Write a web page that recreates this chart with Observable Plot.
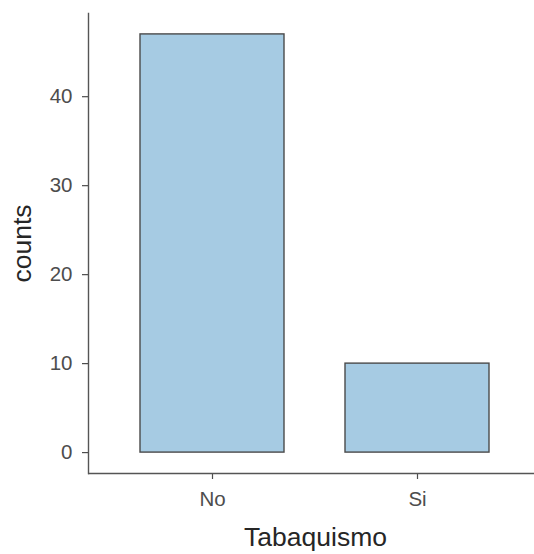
<!DOCTYPE html>
<html>
<head>
<meta charset="utf-8">
<script src="https://cdn.jsdelivr.net/npm/d3@7"></script>
<script src="https://cdn.jsdelivr.net/npm/@observablehq/plot@0.6"></script>
<style>
  html, body { margin: 0; padding: 0; background: #fff; }
</style>
</head>
<body>
<div id="chart"></div>
<script>
const categories = ["No", "Si"];
const counts = [47, 10];
const yTicks = [0, 10, 20, 30, 40];
const xTitle = "Tabaquismo";
const yTitle = "counts";

const data = categories.map((c, i) => ({Tabaquismo: c, counts: counts[i]}));
const yMax = d3.max(counts);
const pad = yMax * 0.05;

const plot = Plot.plot({
  width: 534,
  height: 554,
  marginLeft: 88,
  marginRight: 0,
  marginTop: 13,
  marginBottom: 81,
  style: {fontFamily: "Liberation Sans, Arial, Helvetica, sans-serif", fontSize: "21px", color: "#4d4d4d", background: "#fff"},
  x: {domain: categories, range: [88, 541], paddingInner: 0.3, paddingOuter: 0.25, label: null},
  y: {domain: [-pad, yMax + pad], label: null},
  marks: [
    Plot.barY(data, {x: "Tabaquismo", y1: 0, y2: "counts", fill: "#a6cbe3", stroke: "#4a4a4a", strokeWidth: 1.4}),
    Plot.axisY(yTicks, {tickSize: 6, tickPadding: 10, stroke: "#4d4d4d", strokeWidth: 1.2, fill: "#4d4d4d", fontSize: 20.5, label: null}),
    Plot.axisX({tickSize: 6, tickPadding: 12, stroke: "#4d4d4d", strokeWidth: 1.2, fill: "#4d4d4d", fontSize: 20.5, label: null}),
    Plot.ruleY([-pad], {stroke: "#555", strokeWidth: 1.4}),
    Plot.frame({anchor: "left", stroke: "#555", strokeWidth: 1.4}),
    Plot.text([yTitle], {frameAnchor: "left", textAnchor: "middle", lineAnchor: "middle", dx: -66, rotate: -90, fontSize: 26.5, fill: "#262626", text: d => d}),
    Plot.text([xTitle], {frameAnchor: "bottom", textAnchor: "middle", lineAnchor: "middle", dy: 64.5, dx: 4, fontSize: 26.5, fill: "#262626", text: d => d})
  ]
});
document.getElementById("chart").appendChild(plot);
</script>
</body>
</html>
